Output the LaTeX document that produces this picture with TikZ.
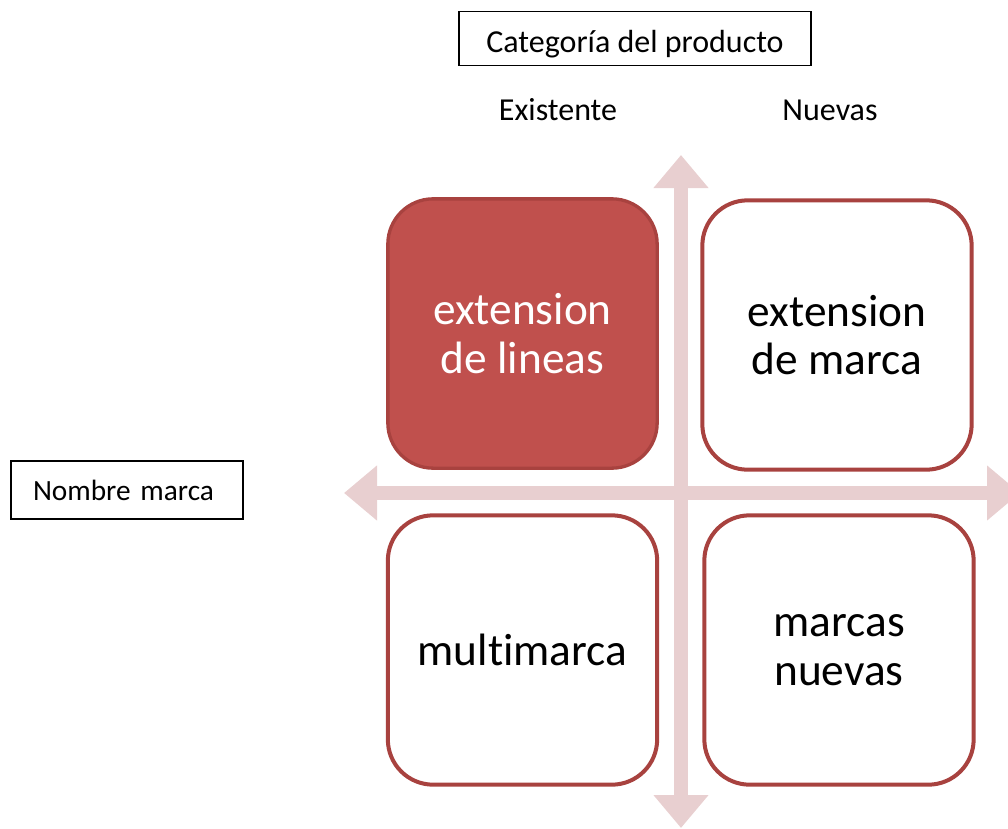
\documentclass[tikz,border=0pt]{standalone}
\usepackage{fontspec}
\setmainfont{Carlito}[Ligatures=CommonOff]
\usetikzlibrary{arrows.meta}
\definecolor{brickred}{HTML}{C0504D}
\definecolor{brickdark}{HTML}{A8423F}
\definecolor{axispink}{HTML}{E8CFD0}
\begin{document}
\begin{tikzpicture}[
				x=0.75pt, y=-0.75pt,
				cell/.style={rounded corners=34pt, draw=brickdark, line width=3pt, fill=white,
					minimum width=202pt, minimum height=202pt, align=center,
					font=\fontsize{34}{36.5}\selectfont},
				hot/.style={cell, fill=brickred, text=white, line width=2.5pt},
				tag/.style={draw=black, line width=0.9pt, inner sep=0pt, font=\fontsize{24}{28}\selectfont},
				head/.style={font=\fontsize{24}{28}\selectfont},
				axis/.style={axispink, line width=10.5pt,
					{Triangle[width=39.75pt,length=24.75pt]}-{Triangle[width=39.75pt,length=24.75pt]}}
				]
			\clip (0,0) rectangle (1008,829);
			% axes
			\coordinate (top) at (681,155);
			\coordinate (bottom) at (681,828);
			\coordinate (left) at (344,493);
			\coordinate (right) at (1020,493);
			\draw [axis] (top) -- (bottom);
			\draw [axis] (left) -- (right);
			% quadrants
			\node [hot] (lineas) at (522.5,333.5) {extension\\de lineas};
			\node [cell] (marca) at (837,335) {extension\\de marca};
			\node [cell] (multi) at (522.5,650) {multimarca};
			\node [cell] (nuevas) at (839,650) {marcas\\nuevas};
			% labels
			\node [tag, minimum width=264pt, minimum height=41pt, text height=23pt, text depth=2pt]
				(categoria) at (635,38.5) {Categoría del producto};
			\node [head] (existente) at (558,110) {Existente};
			\node [head] (nuevo) at (830,110) {Nuevas};
			\node [tag, minimum height=43.5pt, text width=141pt, inner xsep=16.5pt, align=left,
				font=\fontsize{22}{26}\selectfont] (nombre) at (127,490) {Nombre marca};
			\end{tikzpicture}
\end{document}
